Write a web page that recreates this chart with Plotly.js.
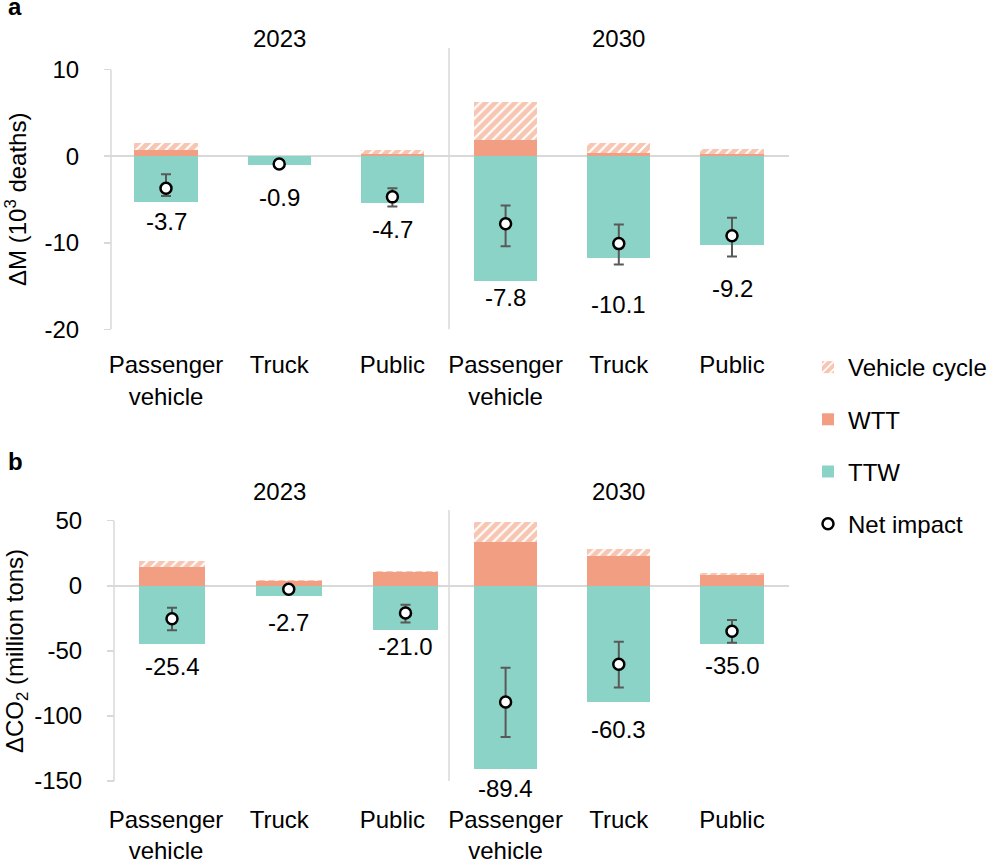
<!DOCTYPE html>
<html>
<head>
<meta charset="utf-8">
<script src="https://cdn.plot.ly/plotly-3.0.1.min.js"></script>
<style>html,body{margin:0;padding:0;background:#fff;}#chart{width:992px;height:862px;}</style>
</head>
<body>
<div id="chart"></div>
<script>
// ---------- data ----------
const categories = ['Passenger<br>vehicle', 'Truck', 'Public', 'Passenger<br>vehicle', 'Truck', 'Public'];
const years = ['2023', '2030'];

// Panel a: ΔM (10^3 deaths)
const mortVehicleCycle = [0.77, 0.02, 0.45, 4.4, 1.1, 0.6];
const mortWTT          = [0.75, 0.03, 0.25, 1.9, 0.4, 0.2];
const mortTTW          = [-5.3, -1.0, -5.4, -14.4, -11.8, -10.3];
const mortNet          = [-3.7, -0.9, -4.7, -7.8, -10.1, -9.2];
const mortErrPlus      = [1.6, 0.2, 1.0, 2.1, 2.2, 2.1];
const mortErrMinus     = [0.9, 0.2, 1.1, 2.6, 2.4, 2.4];

// Panel b: ΔCO2 (million tons)
const co2VehicleCycle = [4.4, 0.3, 0.7, 15.8, 5.1, 1.5];
const co2WTT          = [14.6, 3.8, 10.8, 33.4, 23.1, 8.5];
const co2TTW          = [-45.1, -8.2, -33.8, -140.5, -89.2, -44.8];
const co2Net          = [-25.4, -2.7, -21.0, -89.4, -60.3, -35.0];
const co2ErrPlus      = [8.5, 1.5, 6.4, 26.3, 17.2, 8.6];
const co2ErrMinus     = [8.7, 1.5, 7.2, 26.8, 17.9, 8.8];

// ---------- layout constants (positions/styles) ----------
const labelYa = [-7.6, -4.8, -8.5, -16.3, -17.1, -15.3];
const labelYb = [-62, -28.5, -47, -156, -110.5, -61];

const W = 992, H = 862;
const FONT = 'Liberation Sans, Arial, sans-serif';
const FS = 24;
const GREY = '#d9d9d9';
const C_TTW = '#8cd3c7', C_WTT = '#f29e82', C_VC = '#f7c6b3';
const fx = p => p / W, fy = p => 1 - p / H;

const idx = categories.map((c, i) => i);
const fmt = v => v.toFixed(1);

function barTrace(name, group, rank, color, xs, ys, xa, ya, width, showlegend, pattern) {
  const t = {
    type: 'bar', name: name, legendgroup: group, legendrank: rank, showlegend: showlegend,
    x: xs, y: ys, xaxis: xa, yaxis: ya, width: width,
    marker: {color: color, line: {width: 0}}, hoverinfo: 'skip'
  };
  if (pattern) t.marker.pattern = {shape: '/', fgcolor: '#ffffff', bgcolor: color, size: 7, solidity: 0.3, fillmode: 'replace'};
  return t;
}
function netTrace(xs, ys, plus, minus, xa, ya, showlegend) {
  return {
    type: 'scatter', mode: 'markers', name: 'Net impact', legendgroup: 'net', legendrank: 4,
    showlegend: showlegend, x: xs, y: ys, xaxis: xa, yaxis: ya, cliponaxis: false,
    marker: {symbol: 'circle', size: 11, color: '#ffffff', line: {color: '#000000', width: 2.5}},
    error_y: {type: 'data', symmetric: false, array: plus, arrayminus: minus, color: '#595959', thickness: 2, width: 5},
    hoverinfo: 'skip'
  };
}
function labelAnns(xs, ys, vals, xa, ya) {
  return xs.map((x, i) => ({
    text: fmt(vals[i]), xref: xa, yref: ya, x: x, y: ys[i], xanchor: 'center', yanchor: 'middle',
    showarrow: false, font: {family: FONT, size: FS, color: '#000'}
  }));
}

const traces = [];
// Panel a (all six categories)
traces.push(barTrace('WTT', 'wtt', 2, C_WTT, idx, mortWTT, 'x', 'y', 0.56, true));
traces.push(barTrace('Vehicle cycle', 'vc', 1, C_VC, idx, mortVehicleCycle, 'x', 'y', 0.56, true, true));
traces.push(barTrace('TTW', 'ttw', 3, C_TTW, idx, mortTTW, 'x', 'y', 0.56, true));
traces.push(netTrace(idx, mortNet, mortErrPlus, mortErrMinus, 'x', 'y', true));

// Panel b, 2023 (on overlay axis x3)
const i23 = idx.slice(0, 3), i30 = idx.slice(3);
traces.push(barTrace('WTT', 'wtt', 2, C_WTT, i23, co2WTT.slice(0, 3), 'x3', 'y2', 0.565, false));
traces.push(barTrace('Vehicle cycle', 'vc', 1, C_VC, i23, co2VehicleCycle.slice(0, 3), 'x3', 'y2', 0.565, false, true));
traces.push(barTrace('TTW', 'ttw', 3, C_TTW, i23, co2TTW.slice(0, 3), 'x3', 'y2', 0.565, false));
traces.push(netTrace(i23, co2Net.slice(0, 3), co2ErrPlus.slice(0, 3), co2ErrMinus.slice(0, 3), 'x3', 'y2', false));
// Panel b, 2030
traces.push(barTrace('WTT', 'wtt', 2, C_WTT, i30, co2WTT.slice(3), 'x2', 'y2', 0.56, false));
traces.push(barTrace('Vehicle cycle', 'vc', 1, C_VC, i30, co2VehicleCycle.slice(3), 'x2', 'y2', 0.56, false, true));
traces.push(barTrace('TTW', 'ttw', 3, C_TTW, i30, co2TTW.slice(3), 'x2', 'y2', 0.56, false));
traces.push(netTrace(i30, co2Net.slice(3), co2ErrPlus.slice(3), co2ErrMinus.slice(3), 'x2', 'y2', false));

const xDomain = [fx(109.4), fx(788.6)];
const xCommon = {
  domain: xDomain, range: [-0.5, 5.5], tickmode: 'array', tickvals: idx, ticktext: categories,
  ticks: '', showline: false, showgrid: false, zeroline: false, fixedrange: true,
  tickfont: {family: FONT, size: FS, color: '#000'}
};
const yCommon = {
  ticks: 'outside', ticklen: 7, tickwidth: 1.5, tickcolor: GREY, showline: false, showgrid: false,
  zeroline: true, zerolinecolor: GREY, zerolinewidth: 1.5, anchor: 'free', fixedrange: true,
  tickfont: {family: FONT, size: FS, color: '#000'}, ticklabelstandoff: 20, tickmode: 'array'
};
const yTicksA = [-20, -10, 0, 10];
const yTicksB = [-150, -100, -50, 0, 50];

const annotations = [
  {text: '<b>a</b>', xref: 'paper', yref: 'paper', x: fx(6), y: fy(22), xanchor: 'left', yanchor: 'bottom', showarrow: false, font: {size: FS}},
  {text: '<b>b</b>', xref: 'paper', yref: 'paper', x: fx(6), y: fy(477), xanchor: 'left', yanchor: 'bottom', showarrow: false, font: {size: FS}},
  {text: years[0], xref: 'x', yref: 'paper', x: 1, y: fy(38.5), xanchor: 'center', yanchor: 'middle', showarrow: false},
  {text: years[1], xref: 'x', yref: 'paper', x: 4, y: fy(38.5), xanchor: 'center', yanchor: 'middle', showarrow: false},
  {text: years[0], xref: 'x2', yref: 'paper', x: 1, y: fy(491), xanchor: 'center', yanchor: 'middle', showarrow: false},
  {text: years[1], xref: 'x2', yref: 'paper', x: 4, y: fy(491), xanchor: 'center', yanchor: 'middle', showarrow: false},
  {text: 'ΔM (10<sup>3</sup> deaths)', xref: 'paper', yref: 'paper', x: fx(16), y: fy(200), textangle: -90,
    xanchor: 'center', yanchor: 'middle', showarrow: false},
  {text: 'ΔCO<sub>2</sub> (million tons)', xref: 'paper', yref: 'paper', x: fx(16), y: fy(651), textangle: -90,
    xanchor: 'center', yanchor: 'middle', showarrow: false}
].concat(
  labelAnns(idx, labelYa, mortNet, 'x', 'y'),
  labelAnns(i23, labelYb.slice(0, 3), co2Net.slice(0, 3), 'x3', 'y2'),
  labelAnns(i30, labelYb.slice(3), co2Net.slice(3), 'x2', 'y2')
);

const layout = {
  width: W, height: H, margin: {l: 0, r: 0, t: 0, b: 0},
  paper_bgcolor: '#fff', plot_bgcolor: 'rgba(0,0,0,0)',
  barmode: 'relative', bargap: 0,
  font: {family: FONT, size: FS, color: '#000'},
  xaxis: Object.assign({}, xCommon, {anchor: 'y', ticklabelstandoff: 19}),
  yaxis: Object.assign({}, yCommon, {domain: [fy(329.3), fy(48)], range: [-20, 12.5], position: fx(111),
    tickvals: yTicksA, ticktext: yTicksA.map(String)}),
  xaxis2: Object.assign({}, xCommon, {anchor: 'free', position: fy(781), ticklabelstandoff: 22}),
  yaxis2: Object.assign({}, yCommon, {domain: [fy(807), fy(510)], range: [-170, 58.2], position: fx(114),
    tickvals: yTicksB, ticktext: yTicksB.map(String)}),
  xaxis3: {overlaying: 'x2', anchor: 'y2', range: [-0.5362, 5.2814], visible: false, fixedrange: true},
  showlegend: true,
  legend: {
    x: fx(808), y: fy(345), xanchor: 'left', yanchor: 'top', traceorder: 'grouped',
    tracegroupgap: 18, font: {family: FONT, size: FS, color: '#000'}, bgcolor: 'rgba(0,0,0,0)'
  },
  shapes: [
    {type: 'line', xref: 'paper', yref: 'y', x0: fx(111), x1: fx(111), y0: -20, y1: 10, line: {color: GREY, width: 1.5}},
    {type: 'line', xref: 'paper', yref: 'y2', x0: fx(114), x1: fx(114), y0: -150, y1: 50, line: {color: GREY, width: 1.5}},
    {type: 'line', xref: 'x', yref: 'y domain', x0: 2.5, x1: 2.5, y0: 0, y1: 1, line: {color: GREY, width: 1.5}},
    {type: 'line', xref: 'x2', yref: 'y2', x0: 2.5, x1: 2.5, y0: -150, y1: 58.2, line: {color: GREY, width: 1.5}}
  ],
  annotations: annotations
};

Plotly.newPlot('chart', traces, layout, {staticPlot: true, displayModeBar: false});
</script>
</body>
</html>
